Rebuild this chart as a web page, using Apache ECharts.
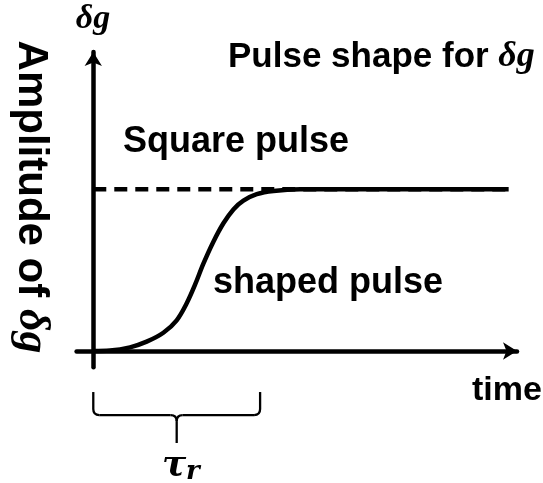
<!DOCTYPE html>
<html><head><meta charset="utf-8">
<script src="https://cdn.jsdelivr.net/npm/echarts@6/dist/echarts.min.js"></script>
<style>html,body{margin:0;padding:0;background:#fff}#c{width:543px;height:483px}</style>
</head><body><div id="c"></div>
<script>
// Shaped pulse (time in units of tau_r, amplitude normalised to the square pulse)
const shapedTime = [0, 0.10, 0.22, 0.32, 0.42, 0.50, 0.56, 0.61, 0.66, 0.72, 0.78, 0.84, 0.90, 0.98, 1.08, 1.24, 1.60, 2.49];
const shapedAmp  = [0, 0.003, 0.023, 0.058, 0.113, 0.19, 0.295, 0.41, 0.54, 0.676, 0.79, 0.876, 0.93, 0.97, 0.99, 1.0, 1.0, 1.0];
// Square pulse
const squareTime = [0, 2.49];
const squareAmp  = [1, 1];
// Rise time
const tauR = 1.0;
// Axis extents
const xRange = [-0.1, 2.54];
const yRange = [-0.1, 1.85];

const sans = '"Liberation Sans", Arial, sans-serif';
const serif = '"Liberation Serif", "DejaVu Serif", serif';
const serif2 = '"DejaVu Serif", serif';

const chart = echarts.init(document.getElementById('c'), null, {renderer: 'canvas'});
const axisLine = {show: true, onZero: true, symbol: ['none', 'arrow'], symbolSize: [13, 14],
  lineStyle: {color: '#000', width: 4.5}};
const baseAxis = {type: 'value', axisLine: axisLine, axisTick: {show: false},
  axisLabel: {show: false}, splitLine: {show: false}};

chart.setOption({
  animation: false,
  backgroundColor: '#fff',
  grid: {left: 76.6, right: 26, top: 51.9, bottom: 115.8},
  xAxis: Object.assign({min: xRange[0], max: xRange[1]}, baseAxis),
  yAxis: Object.assign({min: yRange[0], max: yRange[1]}, baseAxis),
  series: [
    {name: 'Square pulse', type: 'line', symbol: 'none', z: 2,
     data: squareTime.map((t, i) => [t, squareAmp[i]]),
     lineStyle: {color: '#000', width: 4.5, type: [13, 8]}},
    {name: 'shaped pulse', type: 'line', symbol: 'none', z: 3, smooth: 0.35,
     data: shapedTime.map((t, i) => [t, shapedAmp[i]]),
     lineStyle: {color: '#000', width: 4.5}}
  ]
});

const p0 = chart.convertToPixel({gridIndex: 0}, [0, 0]);
const p1 = chart.convertToPixel({gridIndex: 0}, [tauR, 0]);
const bx0 = p0[0], bx1 = p1[0], ya = p0[1];
const bmid = (bx0 + bx1) / 2;
const bTop = ya + 41, bHy = ya + 64, bTip = ya + 92, br = 6;
const bStyle = {fill: null, stroke: '#000', lineWidth: 2.3};
function seg(a, b, c, d) { return {type: 'line', z: 5, shape: {x1: a, y1: b, x2: c, y2: d}, style: bStyle}; }
function qc(a, b, cx, cy, c, d) { return {type: 'bezierCurve', z: 5, shape: {x1: a, y1: b, cpx1: cx, cpy1: cy, x2: c, y2: d}, style: bStyle}; }
const brace = [
  seg(bx0, bTop, bx0, bHy - br), qc(bx0, bHy - br, bx0, bHy, bx0 + br, bHy),
  seg(bx0 + br, bHy, bmid - br, bHy), qc(bmid - br, bHy, bmid, bHy, bmid, bHy + br),
  seg(bmid, bHy + br, bmid, bTip), qc(bmid + br, bHy, bmid, bHy, bmid, bHy + br),
  seg(bmid + br, bHy, bx1 - br, bHy), qc(bx1 - br, bHy, bx1, bHy, bx1, bHy - br),
  seg(bx1, bHy - br, bx1, bTop)
];

function txt(x, y, text, font, align) {
  return {type: 'text', x: x, y: y, z: 10,
    style: {text: text, font: font, fill: '#000', align: align || 'left', verticalAlign: 'middle'}};
}

chart.setOption({
  graphic: brace.concat([
    txt(93, 19, 'δg', 'italic bold 34px ' + serif, 'center'),
    {type: 'text', x: 228, y: 57, z: 10,
     style: {text: '{a|Pulse shape for }{b|δg}', fill: '#000', align: 'left', verticalAlign: 'middle',
       rich: {a: {font: 'bold 35px ' + sans, fill: '#000'}, b: {font: 'italic bold 36px ' + serif, fill: '#000'}}}},
    txt(123, 142, 'Square pulse', 'bold 36px ' + sans),
    txt(213, 283, 'shaped pulse', 'bold 36px ' + sans),
    txt(472, 391, 'time', 'bold 34px ' + sans),
    {type: 'text', x: 31, y: 197, rotation: -Math.PI / 2, z: 10,
     style: {text: '{a|Amplitude of }{b|δg}', fill: '#000', align: 'center', verticalAlign: 'middle',
       rich: {a: {font: 'bold 42px ' + sans, fill: '#000'}, b: {font: 'italic bold 44px ' + serif, fill: '#000'}}}},
    txt(162, 466, 'τ', 'italic bold 36px ' + serif2),
    txt(186, 472, 'r', 'italic bold 26px ' + serif2)
  ])
});
</script>
</body></html>
